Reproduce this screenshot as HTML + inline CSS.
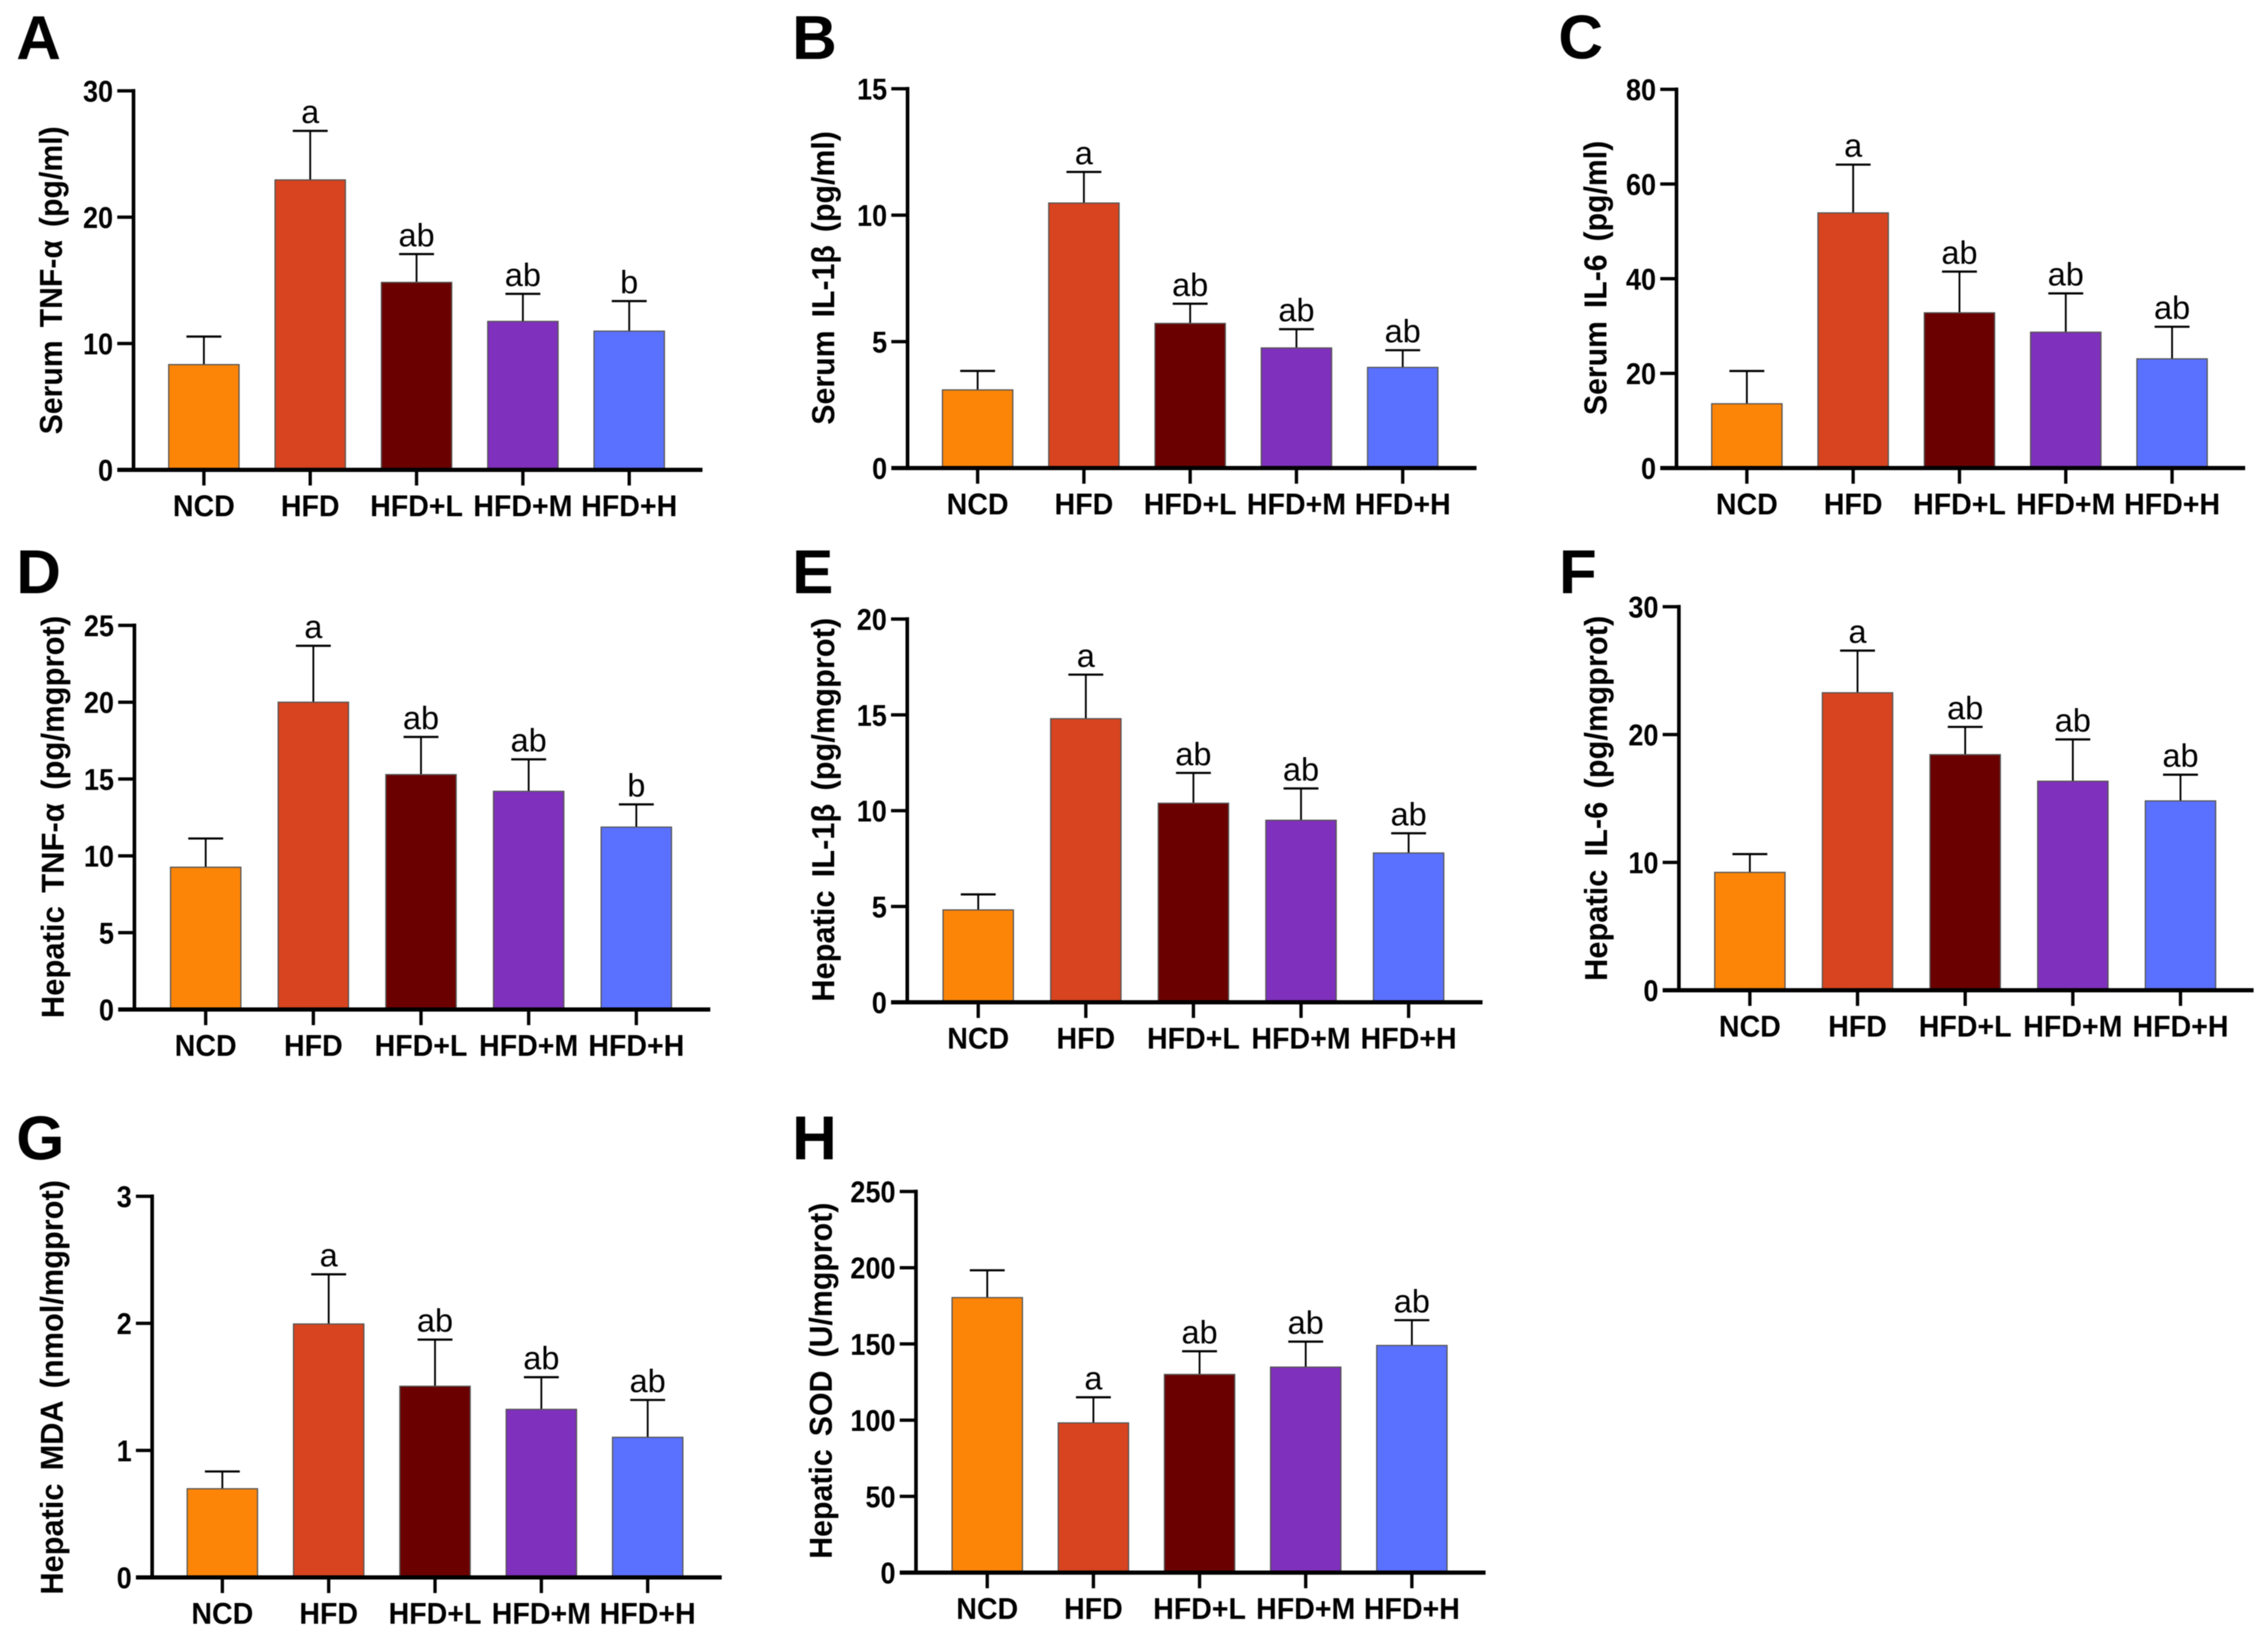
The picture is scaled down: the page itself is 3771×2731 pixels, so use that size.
<!DOCTYPE html>
<html lang="en">
<head>
<meta charset="utf-8">
<title>Serum and hepatic inflammatory markers</title>
<style>
html,body{margin:0;padding:0;background:#fff;}
#figure{display:block;width:3771px;height:2731px;filter:blur(0.9px);}
text{font-family:"Liberation Sans",sans-serif;fill:#000;}
</style>
</head>
<body>
<svg id="figure" xmlns="http://www.w3.org/2000/svg" width="3771" height="2731" viewBox="0 0 3771 2731"></svg>
<script>
const categories = ["NCD", "HFD", "HFD+L", "HFD+M", "HFD+H"];
const barColors = ["#FC8508", "#D7441F", "#6B0000", "#7F30BC", "#5A71FF"];

const ticksA = [0, 10, 20, 30];
const valuesA = [8.33, 22.95, 14.84, 11.75, 10.98];
const errorTopsA = [10.55, 26.83, 17.08, 13.93, 13.36];
const sigA = ["", "a", "ab", "ab", "b"];

const ticksB = [0, 5, 10, 15];
const valuesB = [3.09, 10.48, 5.72, 4.75, 3.98];
const errorTopsB = [3.84, 11.71, 6.5, 5.49, 4.66];
const sigB = ["", "a", "ab", "ab", "ab"];

const ticksC = [0, 20, 40, 60, 80];
const valuesC = [13.58, 53.9, 32.8, 28.7, 23.07];
const errorTopsC = [20.5, 64.1, 41.5, 36.9, 29.85];
const sigC = ["", "a", "ab", "ab", "ab"];

const ticksD = [0, 5, 10, 15, 20, 25];
const valuesD = [9.26, 20.0, 15.29, 14.2, 11.87];
const errorTopsD = [11.13, 23.67, 17.74, 16.28, 13.35];
const sigD = ["", "a", "ab", "ab", "b"];

const ticksE = [0, 5, 10, 15, 20];
const valuesE = [4.82, 14.8, 10.39, 9.5, 7.79];
const errorTopsE = [5.63, 17.1, 11.97, 11.16, 8.82];
const sigE = ["", "a", "ab", "ab", "ab"];

const ticksF = [0, 10, 20, 30];
const valuesF = [9.22, 23.27, 18.43, 16.35, 14.81];
const errorTopsF = [10.65, 26.57, 20.6, 19.62, 16.86];
const sigF = ["", "a", "ab", "ab", "ab"];

const ticksG = [0, 1, 2, 3];
const valuesG = [0.698, 1.995, 1.505, 1.323, 1.103];
const errorTopsG = [0.834, 2.386, 1.872, 1.576, 1.397];
const sigG = ["", "a", "ab", "ab", "ab"];

const ticksH = [0, 50, 100, 150, 200, 250];
const valuesH = [180.4, 98.2, 130, 134.8, 149];
const errorTopsH = [198.3, 115, 145.2, 151.5, 165.6];
const sigH = ["", "a", "ab", "ab", "ab"];

const panels = [
  {id:"A", title:"Serum TNF-\u03B1 (pg/ml)", ticks:ticksA, values:valuesA, errs:errorTopsA, sig:sigA,
   lx:27, ly:98, ax:222, y0:781, yt:151, cx0:339, step:176.8, xEnd:1168, tx:103, tc:466, tl:512},
  {id:"B", title:"Serum IL-1\u03B2 (pg/ml)", ticks:ticksB, values:valuesB, errs:errorTopsB, sig:sigB,
   lx:1317, ly:98, ax:1509, y0:778, yt:147.5, cx0:1625.5, step:176.7, xEnd:2455, tx:1387, tc:462, tl:488},
  {id:"C", title:"Serum IL-6 (pg/ml)", ticks:ticksC, values:valuesC, errs:errorTopsC, sig:sigC,
   lx:2591, ly:97, ax:2787.5, y0:778, yt:148.5, cx0:2904.5, step:176.75, xEnd:3733, tx:2671, tc:462, tl:456},
  {id:"D", title:"Hepatic TNF-\u03B1 (pg/mgprot)", ticks:ticksD, values:valuesD, errs:errorTopsD, sig:sigD,
   lx:27, ly:986, ax:223.5, y0:1678, yt:1039.5, cx0:342, step:179, xEnd:1181, tx:106, tc:1358, tl:669},
  {id:"E", title:"Hepatic IL-1\u03B2 (pg/mgprot)", ticks:ticksE, values:valuesE, errs:errorTopsE, sig:sigE,
   lx:1317, ly:986, ax:1508.5, y0:1666, yt:1029, cx0:1626.5, step:178.9, xEnd:2465, tx:1387, tc:1346, tl:638},
  {id:"F", title:"Hepatic IL-6 (pg/mgprot)", ticks:ticksF, values:valuesF, errs:errorTopsF, sig:sigF,
   lx:2592, ly:986, ax:2791.5, y0:1646, yt:1008.5, cx0:2909.5, step:179, xEnd:3747, tx:2672, tc:1327, tl:607},
  {id:"G", title:"Hepatic MDA (nmol/mgprot)", ticks:ticksG, values:valuesG, errs:errorTopsG, sig:sigG,
   lx:27, ly:1927, ax:253, y0:2622, yt:1988.5, cx0:369.7, step:176.8, xEnd:1200, tx:104.5, tc:2306, tl:689},
  {id:"H", title:"Hepatic SOD (U/mgprot)", ticks:ticksH, values:valuesH, errs:errorTopsH, sig:sigH,
   lx:1317, ly:1927, ax:1523, y0:2614, yt:1980.5, cx0:1641.5, step:176.5, xEnd:2470, tx:1383, tc:2295, tl:592}
];

const NS = "http://www.w3.org/2000/svg";
const svg = document.getElementById("figure");

function make(tag, attrs, parent) {
  const node = document.createElementNS(NS, tag);
  for (const key in attrs) node.setAttribute(key, attrs[key]);
  parent.appendChild(node);
  return node;
}

function yAxisScale(p, v) {
  const top = p.ticks[p.ticks.length - 1];
  return p.y0 - (v / top) * (p.y0 - p.yt);
}

function xAxisScale(p, i) {
  return p.cx0 + i * p.step;
}

function drawPanel(p) {
  const key = p.id.toLowerCase();
  const g = make("g", {}, svg);
  
  

  const letter = make("text", {x:p.lx, y:p.ly, "font-size":103, "font-weight":700}, g);
  letter.textContent = p.id;
  
  

  const title = make("text", {
    transform:"translate(" + p.tx + "," + p.tc + ") rotate(-90)",
    "text-anchor":"middle", "font-size":53, "font-weight":700, "word-spacing":"8px",
    textLength:p.tl, lengthAdjust:"spacingAndGlyphs"
  }, g);
  title.textContent = p.title;
  
  

  categories.forEach(function (cat, i) {
    const cx = xAxisScale(p, i);
    const top = yAxisScale(p, p.values[i]);
    const errTop = yAxisScale(p, p.errs[i]);

    const stem = make("line", {x1:cx, x2:cx, y1:top, y2:errTop, stroke:"#000", "stroke-width":3}, g);
    
    

    const cap = make("line", {x1:cx - 29, x2:cx + 29, y1:errTop, y2:errTop, stroke:"#000", "stroke-width":3.6}, g);
    
    

    const bar = make("rect", {
      x:cx - 58.5, y:top, width:117, height:p.y0 - top,
      fill:barColors[i], stroke:"#555", "stroke-width":2
    }, g);
    
    

    if (p.sig[i]) {
      const mark = make("text", {
        transform:"translate(" + cx + "," + (errTop - 13) + ")",
        "text-anchor":"middle", "font-size":54
      }, g);
      mark.textContent = p.sig[i];
      
      
    }

    const tick = make("line", {x1:cx, x2:cx, y1:p.y0, y2:p.y0 + 26, stroke:"#000", "stroke-width":5.5}, g);
    
    

    const label = make("text", {
      transform:"translate(" + cx + "," + (p.y0 + 77) + ") scale(0.95,1)",
      "text-anchor":"middle", "font-size":50, "font-weight":700
    }, g);
    label.textContent = cat;
    
    
  });

  const yAxis = make("line", {x1:p.ax, x2:p.ax, y1:p.yt - 3, y2:p.y0, stroke:"#000", "stroke-width":6}, g);
  
  

  const xAxis = make("line", {x1:p.ax - 27, x2:p.xEnd, y1:p.y0, y2:p.y0, stroke:"#000", "stroke-width":7}, g);
  
  

  p.ticks.forEach(function (t) {
    const y = yAxisScale(p, t);
    const tick = make("line", {x1:p.ax - 27, x2:p.ax, y1:y, y2:y, stroke:"#000", "stroke-width":5.5}, g);
    
    

    const label = make("text", {
      transform:"translate(" + (p.ax - 34) + "," + (y + 18) + ") scale(0.9,1)",
      "text-anchor":"end", "font-size":50, "font-weight":700
    }, g);
    label.textContent = String(t);
    
    
  });
}

panels.forEach(drawPanel);
</script>
</body>
</html>
